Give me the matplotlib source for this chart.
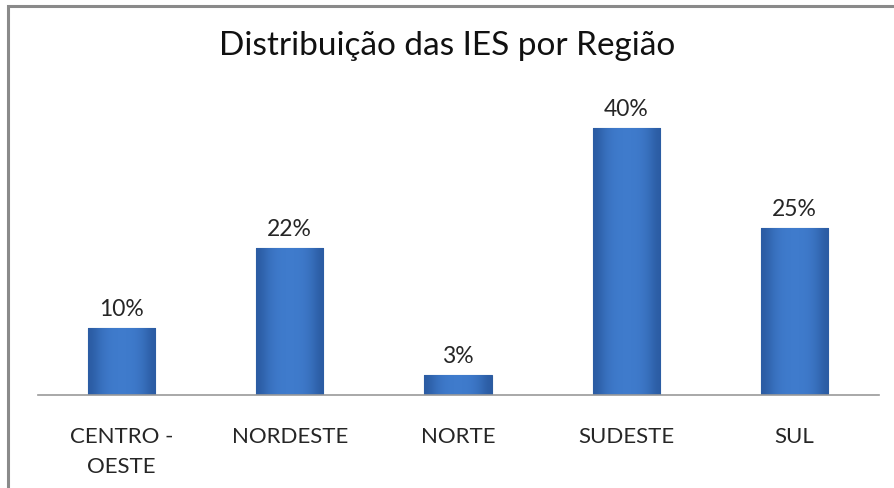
import numpy as np
import matplotlib.pyplot as plt
from matplotlib.patches import Rectangle
from matplotlib.colors import LinearSegmentedColormap

regioes = ["CENTRO -\nOESTE", "NORDESTE", "NORTE", "SUDESTE", "SUL"]
percentuais = [10, 22, 3, 40, 25]
rotulos = ["10%", "22%", "3%", "40%", "25%"]

plt.rcParams["font.family"] = ["Lato", "DejaVu Sans"]

fig = plt.figure(figsize=(8.94, 4.88), dpi=100)
fig.patch.set_facecolor("white")

# moldura do gráfico (cortada na direita e embaixo)
fig.patches.append(Rectangle((8 / 894, -0.05), 1.2, 1 - 6 / 488 + 0.05,
                             transform=fig.transFigure, fill=False,
                             edgecolor="#8a8a8a", linewidth=2.2))

ax = fig.add_axes([37.5 / 894, 1 - 395 / 488, 841 / 894, 300 / 488])
x = np.arange(len(regioes))
bars = ax.bar(x, percentuais, width=0.4, color="#3a6fc0", edgecolor="#2d5c9f", linewidth=0.8)

# gradiente horizontal para imitar o efeito 3D
grad = np.array([0.0, 0.45, 0.7, 0.8, 0.8, 0.8, 0.7, 0.45, 0.0]).reshape(1, -1)
cmap = LinearSegmentedColormap.from_list("azul", ["#2b5ca3", "#3f7bcc"])
for b in bars:
    x0, y0 = b.get_x(), b.get_y()
    w, h = b.get_width(), b.get_height()
    im = ax.imshow(grad, extent=[x0, x0 + w, y0, y0 + h], aspect="auto", cmap=cmap,
                   vmin=0, vmax=0.8, interpolation="bicubic", zorder=2)
    im.set_clip_path(b)

for xi, v, r in zip(x, percentuais, rotulos):
    ax.text(xi, v + 1.2, r, ha="center", va="bottom", fontsize=16.5, color="#262626")

ax.set_xlim(-0.5, len(regioes) - 0.5)
ax.set_ylim(0, 45)
ax.set_xticks(x)
ax.set_xticklabels(regioes, fontsize=16, color="#262626", linespacing=1.6, va="top")
ax.tick_params(axis="x", length=0, pad=23)
ax.set_yticks([])
for s in ["top", "right", "left"]:
    ax.spines[s].set_visible(False)
ax.spines["bottom"].set_color("#9a9a9a")
ax.spines["bottom"].set_linewidth(1.2)

fig.text(447 / 894, 1 - 46 / 488, "Distribuição das IES por Região", ha="center", va="center",
         fontsize=24, color="#111111")

fig.savefig("out.png", dpi=100)
